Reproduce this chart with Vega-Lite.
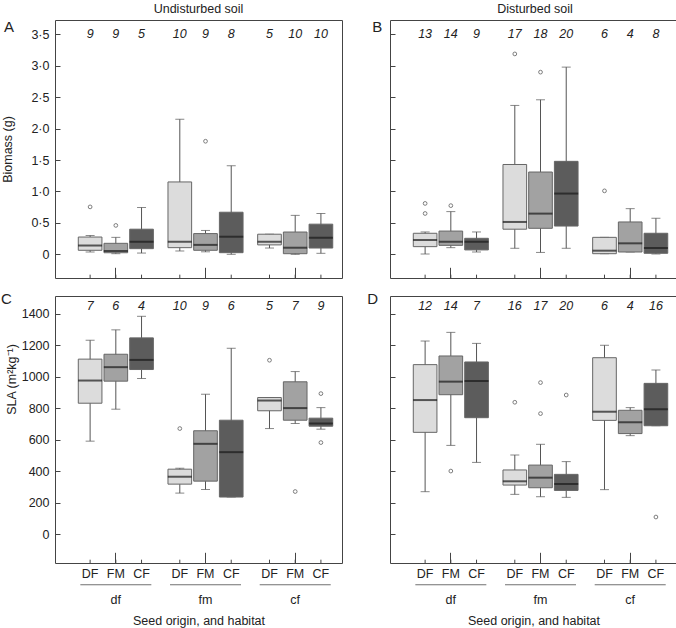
{
  "$schema": "https://vega.github.io/schema/vega-lite/v6.json",
  "padding": {"left": 0, "top": 2, "right": 0, "bottom": 0},
  "spacing": 23,
  "datasets": {
    "boxes": [
      {"panel": "A", "habitat": "df", "origin": "DF", "lower": 0.037, "q1": 0.064, "median": 0.14, "q3": 0.275, "upper": 0.30, "n": 9},
      {"panel": "A", "habitat": "df", "origin": "FM", "lower": 0.01, "q1": 0.025, "median": 0.053, "q3": 0.175, "upper": 0.27, "n": 9},
      {"panel": "A", "habitat": "df", "origin": "CF", "lower": 0.02, "q1": 0.09, "median": 0.20, "q3": 0.40, "upper": 0.745, "n": 5},
      {"panel": "A", "habitat": "fm", "origin": "DF", "lower": 0.053, "q1": 0.106, "median": 0.20, "q3": 1.152, "upper": 2.15, "n": 10},
      {"panel": "A", "habitat": "fm", "origin": "FM", "lower": 0.04, "q1": 0.064, "median": 0.15, "q3": 0.33, "upper": 0.38, "n": 9},
      {"panel": "A", "habitat": "fm", "origin": "CF", "lower": 0.0, "q1": 0.026, "median": 0.28, "q3": 0.67, "upper": 1.41, "n": 8},
      {"panel": "A", "habitat": "cf", "origin": "DF", "lower": 0.10, "q1": 0.15, "median": 0.20, "q3": 0.32, "upper": 0.32, "n": 5},
      {"panel": "A", "habitat": "cf", "origin": "FM", "lower": 0.0, "q1": 0.01, "median": 0.105, "q3": 0.355, "upper": 0.62, "n": 10},
      {"panel": "A", "habitat": "cf", "origin": "CF", "lower": 0.016, "q1": 0.10, "median": 0.265, "q3": 0.48, "upper": 0.65, "n": 10},
      {"panel": "B", "habitat": "df", "origin": "DF", "lower": 0.005, "q1": 0.122, "median": 0.228, "q3": 0.335, "upper": 0.356, "n": 13},
      {"panel": "B", "habitat": "df", "origin": "FM", "lower": 0.106, "q1": 0.143, "median": 0.20, "q3": 0.37, "upper": 0.68, "n": 14},
      {"panel": "B", "habitat": "df", "origin": "CF", "lower": 0.037, "q1": 0.07, "median": 0.20, "q3": 0.255, "upper": 0.356, "n": 9},
      {"panel": "B", "habitat": "fm", "origin": "DF", "lower": 0.096, "q1": 0.40, "median": 0.515, "q3": 1.43, "upper": 2.37, "n": 17},
      {"panel": "B", "habitat": "fm", "origin": "FM", "lower": 0.03, "q1": 0.414, "median": 0.648, "q3": 1.31, "upper": 2.46, "n": 18},
      {"panel": "B", "habitat": "fm", "origin": "CF", "lower": 0.096, "q1": 0.45, "median": 0.967, "q3": 1.48, "upper": 2.98, "n": 20},
      {"panel": "B", "habitat": "cf", "origin": "DF", "lower": 0.01, "q1": 0.01, "median": 0.058, "q3": 0.27, "upper": 0.27, "n": 6},
      {"panel": "B", "habitat": "cf", "origin": "FM", "lower": 0.037, "q1": 0.037, "median": 0.175, "q3": 0.515, "upper": 0.727, "n": 4},
      {"panel": "B", "habitat": "cf", "origin": "CF", "lower": 0.005, "q1": 0.016, "median": 0.10, "q3": 0.335, "upper": 0.574, "n": 8},
      {"panel": "C", "habitat": "df", "origin": "DF", "lower": 590, "q1": 831, "median": 975, "q3": 1111, "upper": 1231, "n": 7},
      {"panel": "C", "habitat": "df", "origin": "FM", "lower": 793, "q1": 971, "median": 1060, "q3": 1142, "upper": 1297, "n": 6},
      {"panel": "C", "habitat": "df", "origin": "CF", "lower": 988, "q1": 1045, "median": 1106, "q3": 1246, "upper": 1383, "n": 4},
      {"panel": "C", "habitat": "fm", "origin": "DF", "lower": 260, "q1": 317, "median": 364, "q3": 412, "upper": 418, "n": 10},
      {"panel": "C", "habitat": "fm", "origin": "FM", "lower": 283, "q1": 336, "median": 573, "q3": 656, "upper": 888, "n": 9},
      {"panel": "C", "habitat": "fm", "origin": "CF", "lower": 235, "q1": 235, "median": 520, "q3": 723, "upper": 1180, "n": 6},
      {"panel": "C", "habitat": "cf", "origin": "DF", "lower": 670, "q1": 783, "median": 848, "q3": 867, "upper": 867, "n": 5},
      {"panel": "C", "habitat": "cf", "origin": "FM", "lower": 702, "q1": 723, "median": 800, "q3": 967, "upper": 1032, "n": 7},
      {"panel": "C", "habitat": "cf", "origin": "CF", "lower": 666, "q1": 685, "median": 702, "q3": 736, "upper": 803, "n": 9},
      {"panel": "D", "habitat": "df", "origin": "DF", "lower": 269, "q1": 646, "median": 851, "q3": 1076, "upper": 1226, "n": 12},
      {"panel": "D", "habitat": "df", "origin": "FM", "lower": 563, "q1": 885, "median": 968, "q3": 1131, "upper": 1281, "n": 14},
      {"panel": "D", "habitat": "df", "origin": "CF", "lower": 455, "q1": 739, "median": 972, "q3": 1093, "upper": 1211, "n": 7},
      {"panel": "D", "habitat": "fm", "origin": "DF", "lower": 252, "q1": 311, "median": 335, "q3": 407, "upper": 502, "n": 16},
      {"panel": "D", "habitat": "fm", "origin": "FM", "lower": 237, "q1": 294, "median": 358, "q3": 438, "upper": 570, "n": 17},
      {"panel": "D", "habitat": "fm", "origin": "CF", "lower": 233, "q1": 277, "median": 318, "q3": 379, "upper": 460, "n": 20},
      {"panel": "D", "habitat": "cf", "origin": "DF", "lower": 282, "q1": 722, "median": 777, "q3": 1120, "upper": 1199, "n": 6},
      {"panel": "D", "habitat": "cf", "origin": "FM", "lower": 625, "q1": 638, "median": 710, "q3": 786, "upper": 803, "n": 4},
      {"panel": "D", "habitat": "cf", "origin": "CF", "lower": 688, "q1": 688, "median": 792, "q3": 957, "upper": 1042, "n": 16}
    ],
    "outliers": [
      {"panel": "A", "habitat": "df", "origin": "DF", "value": 0.755},
      {"panel": "A", "habitat": "df", "origin": "FM", "value": 0.46},
      {"panel": "A", "habitat": "fm", "origin": "FM", "value": 1.80},
      {"panel": "B", "habitat": "df", "origin": "DF", "value": 0.81},
      {"panel": "B", "habitat": "df", "origin": "DF", "value": 0.65},
      {"panel": "B", "habitat": "df", "origin": "FM", "value": 0.775},
      {"panel": "B", "habitat": "fm", "origin": "DF", "value": 3.19},
      {"panel": "B", "habitat": "fm", "origin": "FM", "value": 2.90},
      {"panel": "B", "habitat": "cf", "origin": "DF", "value": 1.01},
      {"panel": "C", "habitat": "fm", "origin": "DF", "value": 670},
      {"panel": "C", "habitat": "cf", "origin": "DF", "value": 1104},
      {"panel": "C", "habitat": "cf", "origin": "FM", "value": 270},
      {"panel": "C", "habitat": "cf", "origin": "CF", "value": 892},
      {"panel": "C", "habitat": "cf", "origin": "CF", "value": 581},
      {"panel": "D", "habitat": "df", "origin": "FM", "value": 400},
      {"panel": "D", "habitat": "fm", "origin": "DF", "value": 837},
      {"panel": "D", "habitat": "fm", "origin": "FM", "value": 962},
      {"panel": "D", "habitat": "fm", "origin": "FM", "value": 765},
      {"panel": "D", "habitat": "fm", "origin": "CF", "value": 883},
      {"panel": "D", "habitat": "cf", "origin": "CF", "value": 108}
    ]
  },
  "hconcat": [
    {
      "title": {"text": "Undisturbed soil", "fontSize": 12.5, "fontWeight": "normal", "offset": -5.7, "baseline": "alphabetic", "anchor": "middle", "frame": "group", "dx": 143.5},
      "bounds": "flush",
      "spacing": 18,
      "vconcat": [
        {
          "width": 287, "height": 258,
          "title": {"text": "A", "anchor": "start", "frame": "group", "dx": -51, "dy": 11.4, "offset": -15.4, "baseline": "alphabetic", "fontSize": 15, "fontWeight": "normal"},
          "data": {"name": "boxes"},
          "transform": [{"filter": "datum.panel === 'A'"}],
          "encoding": {
            "x": {"field": "habitat", "type": "nominal", "scale": {"domain": ["df", "fm", "cf"], "paddingInner": 0.14, "paddingOuter": 0.17, "align": 0.73}, "axis": {"tickSize": -10.7, "labels": false, "title": null}},
            "xOffset": {"field": "origin", "type": "nominal", "scale": {"domain": ["DF", "FM", "CF"], "paddingInner": 0.08, "paddingOuter": 0.04}}
          },
          "layer": [
            {"mark": {"type": "rule", "color": "#555"}, "encoding": {"y": {"field": "lower", "type": "quantitative", "scale": {"domain": [-0.377, 3.73], "nice": false, "zero": false}, "axis": {"values": [0, 0.5, 1, 1.5, 2, 2.5, 3, 3.5], "labelOverlap": false, "labelExpr": "datum.value === 0 ? '0' : replace(format(datum.value, '.1f'), '.', '·')", "tickSize": -5, "labelPadding": 11, "title": "Biomass (g)", "titlePadding": 16.5}}, "y2": {"field": "upper"}}},
            {"mark": {"type": "tick", "size": 9, "thickness": 1, "color": "#555"}, "encoding": {"y": {"field": "upper", "type": "quantitative", "axis": {"values": [0, 0.5, 1, 1.5, 2, 2.5, 3, 3.5], "labelOverlap": false, "labelExpr": "datum.value === 0 ? '0' : replace(format(datum.value, '.1f'), '.', '·')", "tickSize": -5, "labelPadding": 11, "title": "Biomass (g)", "titlePadding": 16.5}}}},
            {"mark": {"type": "tick", "size": 9, "thickness": 1, "color": "#555"}, "encoding": {"y": {"field": "lower", "type": "quantitative", "axis": {"values": [0, 0.5, 1, 1.5, 2, 2.5, 3, 3.5], "labelOverlap": false, "labelExpr": "datum.value === 0 ? '0' : replace(format(datum.value, '.1f'), '.', '·')", "tickSize": -5, "labelPadding": 11, "title": "Biomass (g)", "titlePadding": 16.5}}}},
            {"mark": {"type": "bar", "stroke": "#666", "strokeWidth": 1}, "encoding": {"y": {"field": "q1", "type": "quantitative", "axis": {"values": [0, 0.5, 1, 1.5, 2, 2.5, 3, 3.5], "labelOverlap": false, "labelExpr": "datum.value === 0 ? '0' : replace(format(datum.value, '.1f'), '.', '·')", "tickSize": -5, "labelPadding": 11, "title": "Biomass (g)", "titlePadding": 16.5}}, "y2": {"field": "q3"}, "color": {"field": "origin", "type": "nominal", "scale": {"domain": ["DF", "FM", "CF"], "range": ["#dcdcdc", "#a2a2a2", "#5c5c5c"]}, "legend": null}}},
            {"mark": {"type": "tick", "size": 24, "thickness": 2, "color": "#1a1a1a"}, "encoding": {"y": {"field": "median", "type": "quantitative", "axis": {"values": [0, 0.5, 1, 1.5, 2, 2.5, 3, 3.5], "labelOverlap": false, "labelExpr": "datum.value === 0 ? '0' : replace(format(datum.value, '.1f'), '.', '·')", "tickSize": -5, "labelPadding": 11, "title": "Biomass (g)", "titlePadding": 16.5}}}},
            {"data": {"name": "outliers"}, "transform": [{"filter": "datum.panel === 'A'"}], "mark": {"type": "point", "shape": "circle", "filled": false, "size": 14, "stroke": "#333", "strokeWidth": 0.9}, "encoding": {"y": {"field": "value", "type": "quantitative", "axis": {"values": [0, 0.5, 1, 1.5, 2, 2.5, 3, 3.5], "labelOverlap": false, "labelExpr": "datum.value === 0 ? '0' : replace(format(datum.value, '.1f'), '.', '·')", "tickSize": -5, "labelPadding": 11, "title": "Biomass (g)", "titlePadding": 16.5}}}},
            {"mark": {"type": "text", "fontStyle": "italic", "fontSize": 12.5, "color": "#222", "baseline": "middle"}, "encoding": {"y": {"datum": 3.5, "axis": {"values": [0, 0.5, 1, 1.5, 2, 2.5, 3, 3.5], "labelOverlap": false, "labelExpr": "datum.value === 0 ? '0' : replace(format(datum.value, '.1f'), '.', '·')", "tickSize": -5, "labelPadding": 11, "title": "Biomass (g)", "titlePadding": 16.5}}, "text": {"field": "n"}}},
            {"mark": {"type": "rule", "color": "#444"}, "encoding": {"y": {"datum": -0.377, "axis": {"values": [0, 0.5, 1, 1.5, 2, 2.5, 3, 3.5], "labelOverlap": false, "labelExpr": "datum.value === 0 ? '0' : replace(format(datum.value, '.1f'), '.', '·')", "tickSize": -5, "labelPadding": 11, "title": "Biomass (g)", "titlePadding": 16.5}}, "y2": {"datum": -0.324}}}
          ]
        },
        {
          "width": 287, "height": 267,
          "title": {"text": "C", "anchor": "start", "frame": "group", "dx": -54, "dy": 7.5, "offset": -15.4, "baseline": "alphabetic", "fontSize": 15, "fontWeight": "normal"},
          "data": {"name": "boxes"},
          "transform": [{"filter": "datum.panel === 'C'"}],
          "encoding": {
            "x": {"field": "habitat", "type": "nominal", "scale": {"domain": ["df", "fm", "cf"], "paddingInner": 0.14, "paddingOuter": 0.17, "align": 0.73}, "axis": {"tickSize": -10.7, "labelPadding": 41, "title": "Seed origin, and habitat", "titlePadding": 9}},
            "xOffset": {"field": "origin", "type": "nominal", "scale": {"domain": ["DF", "FM", "CF"], "paddingInner": 0.08, "paddingOuter": 0.04}}
          },
          "layer": [
            {"mark": {"type": "rule", "color": "#555"}, "encoding": {"y": {"field": "lower", "type": "quantitative", "scale": {"domain": [-184, 1512], "nice": false, "zero": false}, "axis": {"values": [0, 200, 400, 600, 800, 1000, 1200, 1400], "format": "d", "labelOverlap": false, "tickSize": -5, "labelPadding": 11, "title": "SLA (m²kg⁻¹)", "titlePadding": 3, "titleY": 83}}, "y2": {"field": "upper"}}},
            {"mark": {"type": "tick", "size": 9, "thickness": 1, "color": "#555"}, "encoding": {"y": {"field": "upper", "type": "quantitative", "axis": {"values": [0, 200, 400, 600, 800, 1000, 1200, 1400], "format": "d", "labelOverlap": false, "tickSize": -5, "labelPadding": 11, "title": "SLA (m²kg⁻¹)", "titlePadding": 3, "titleY": 83}}}},
            {"mark": {"type": "tick", "size": 9, "thickness": 1, "color": "#555"}, "encoding": {"y": {"field": "lower", "type": "quantitative", "axis": {"values": [0, 200, 400, 600, 800, 1000, 1200, 1400], "format": "d", "labelOverlap": false, "tickSize": -5, "labelPadding": 11, "title": "SLA (m²kg⁻¹)", "titlePadding": 3, "titleY": 83}}}},
            {"mark": {"type": "bar", "stroke": "#666", "strokeWidth": 1}, "encoding": {"y": {"field": "q1", "type": "quantitative", "axis": {"values": [0, 200, 400, 600, 800, 1000, 1200, 1400], "format": "d", "labelOverlap": false, "tickSize": -5, "labelPadding": 11, "title": "SLA (m²kg⁻¹)", "titlePadding": 3, "titleY": 83}}, "y2": {"field": "q3"}, "color": {"field": "origin", "type": "nominal", "scale": {"domain": ["DF", "FM", "CF"], "range": ["#dcdcdc", "#a2a2a2", "#5c5c5c"]}, "legend": null}}},
            {"mark": {"type": "tick", "size": 24, "thickness": 2, "color": "#1a1a1a"}, "encoding": {"y": {"field": "median", "type": "quantitative", "axis": {"values": [0, 200, 400, 600, 800, 1000, 1200, 1400], "format": "d", "labelOverlap": false, "tickSize": -5, "labelPadding": 11, "title": "SLA (m²kg⁻¹)", "titlePadding": 3, "titleY": 83}}}},
            {"data": {"name": "outliers"}, "transform": [{"filter": "datum.panel === 'C'"}], "mark": {"type": "point", "shape": "circle", "filled": false, "size": 14, "stroke": "#333", "strokeWidth": 0.9}, "encoding": {"y": {"field": "value", "type": "quantitative", "axis": {"values": [0, 200, 400, 600, 800, 1000, 1200, 1400], "format": "d", "labelOverlap": false, "tickSize": -5, "labelPadding": 11, "title": "SLA (m²kg⁻¹)", "titlePadding": 3, "titleY": 83}}}},
            {"mark": {"type": "text", "fontStyle": "italic", "fontSize": 12.5, "color": "#222", "baseline": "middle"}, "encoding": {"y": {"datum": 1450, "axis": {"values": [0, 200, 400, 600, 800, 1000, 1200, 1400], "format": "d", "labelOverlap": false, "tickSize": -5, "labelPadding": 11, "title": "SLA (m²kg⁻¹)", "titlePadding": 3, "titleY": 83}}, "text": {"field": "n"}}},
            {"mark": {"type": "rule", "color": "#444"}, "encoding": {"y": {"datum": -184, "axis": {"values": [0, 200, 400, 600, 800, 1000, 1200, 1400], "format": "d", "labelOverlap": false, "tickSize": -5, "labelPadding": 11, "title": "SLA (m²kg⁻¹)", "titlePadding": 3, "titleY": 83}}, "y2": {"datum": -163}}},
            {"mark": {"type": "text", "fontSize": 12.5, "color": "#222", "baseline": "middle", "dy": 11}, "encoding": {"y": {"datum": -184, "axis": {"values": [0, 200, 400, 600, 800, 1000, 1200, 1400], "format": "d", "labelOverlap": false, "tickSize": -5, "labelPadding": 11, "title": "SLA (m²kg⁻¹)", "titlePadding": 3, "titleY": 83}}, "text": {"field": "origin"}}},
            {"transform": [{"filter": "datum.origin === 'FM'"}], "mark": {"type": "tick", "size": 71, "thickness": 1, "color": "#333"}, "encoding": {"y": {"datum": -322, "axis": {"values": [0, 200, 400, 600, 800, 1000, 1200, 1400], "format": "d", "labelOverlap": false, "tickSize": -5, "labelPadding": 11, "title": "SLA (m²kg⁻¹)", "titlePadding": 3, "titleY": 83}}}}
          ]
        }
      ]
    },
    {
      "title": {"text": "Disturbed soil", "fontSize": 12.5, "fontWeight": "normal", "offset": -5.7, "baseline": "alphabetic", "anchor": "middle", "frame": "group", "dx": 145},
      "bounds": "flush",
      "spacing": 18,
      "vconcat": [
        {
          "width": 287, "height": 258,
          "title": {"text": "B", "anchor": "start", "frame": "group", "dx": -17.7, "dy": 11.8, "offset": -15.4, "baseline": "alphabetic", "fontSize": 15, "fontWeight": "normal"},
          "data": {"name": "boxes"},
          "transform": [{"filter": "datum.panel === 'B'"}],
          "encoding": {
            "x": {"field": "habitat", "type": "nominal", "scale": {"domain": ["df", "fm", "cf"], "paddingInner": 0.14, "paddingOuter": 0.17, "align": 0.73}, "axis": {"tickSize": -10.7, "labels": false, "title": null}},
            "xOffset": {"field": "origin", "type": "nominal", "scale": {"domain": ["DF", "FM", "CF"], "paddingInner": 0.08, "paddingOuter": 0.04}}
          },
          "layer": [
            {"mark": {"type": "rule", "color": "#555"}, "encoding": {"y": {"field": "lower", "type": "quantitative", "scale": {"domain": [-0.377, 3.73], "nice": false, "zero": false}, "axis": {"values": [0, 0.5, 1, 1.5, 2, 2.5, 3, 3.5], "labels": false, "tickSize": -5, "title": null}}, "y2": {"field": "upper"}}},
            {"mark": {"type": "tick", "size": 9, "thickness": 1, "color": "#555"}, "encoding": {"y": {"field": "upper", "type": "quantitative", "axis": {"values": [0, 0.5, 1, 1.5, 2, 2.5, 3, 3.5], "labels": false, "tickSize": -5, "title": null}}}},
            {"mark": {"type": "tick", "size": 9, "thickness": 1, "color": "#555"}, "encoding": {"y": {"field": "lower", "type": "quantitative", "axis": {"values": [0, 0.5, 1, 1.5, 2, 2.5, 3, 3.5], "labels": false, "tickSize": -5, "title": null}}}},
            {"mark": {"type": "bar", "stroke": "#666", "strokeWidth": 1}, "encoding": {"y": {"field": "q1", "type": "quantitative", "axis": {"values": [0, 0.5, 1, 1.5, 2, 2.5, 3, 3.5], "labels": false, "tickSize": -5, "title": null}}, "y2": {"field": "q3"}, "color": {"field": "origin", "type": "nominal", "scale": {"domain": ["DF", "FM", "CF"], "range": ["#dcdcdc", "#a2a2a2", "#5c5c5c"]}, "legend": null}}},
            {"mark": {"type": "tick", "size": 24, "thickness": 2, "color": "#1a1a1a"}, "encoding": {"y": {"field": "median", "type": "quantitative", "axis": {"values": [0, 0.5, 1, 1.5, 2, 2.5, 3, 3.5], "labels": false, "tickSize": -5, "title": null}}}},
            {"data": {"name": "outliers"}, "transform": [{"filter": "datum.panel === 'B'"}], "mark": {"type": "point", "shape": "circle", "filled": false, "size": 14, "stroke": "#333", "strokeWidth": 0.9}, "encoding": {"y": {"field": "value", "type": "quantitative", "axis": {"values": [0, 0.5, 1, 1.5, 2, 2.5, 3, 3.5], "labels": false, "tickSize": -5, "title": null}}}},
            {"mark": {"type": "text", "fontStyle": "italic", "fontSize": 12.5, "color": "#222", "baseline": "middle"}, "encoding": {"y": {"datum": 3.5, "axis": {"values": [0, 0.5, 1, 1.5, 2, 2.5, 3, 3.5], "labels": false, "tickSize": -5, "title": null}}, "text": {"field": "n"}}},
            {"mark": {"type": "rule", "color": "#444"}, "encoding": {"y": {"datum": -0.377, "axis": {"values": [0, 0.5, 1, 1.5, 2, 2.5, 3, 3.5], "labels": false, "tickSize": -5, "title": null}}, "y2": {"datum": -0.324}}}
          ]
        },
        {
          "width": 287, "height": 267,
          "title": {"text": "D", "anchor": "start", "frame": "group", "dx": -22.7, "dy": 7.4, "offset": -15.4, "baseline": "alphabetic", "fontSize": 15, "fontWeight": "normal"},
          "data": {"name": "boxes"},
          "transform": [{"filter": "datum.panel === 'D'"}],
          "encoding": {
            "x": {"field": "habitat", "type": "nominal", "scale": {"domain": ["df", "fm", "cf"], "paddingInner": 0.14, "paddingOuter": 0.17, "align": 0.73}, "axis": {"tickSize": -10.7, "labelPadding": 41, "title": "Seed origin, and habitat", "titlePadding": 9}},
            "xOffset": {"field": "origin", "type": "nominal", "scale": {"domain": ["DF", "FM", "CF"], "paddingInner": 0.08, "paddingOuter": 0.04}}
          },
          "layer": [
            {"mark": {"type": "rule", "color": "#555"}, "encoding": {"y": {"field": "lower", "type": "quantitative", "scale": {"domain": [-184, 1512], "nice": false, "zero": false}, "axis": {"values": [0, 200, 400, 600, 800, 1000, 1200, 1400], "labels": false, "tickSize": -5, "title": null}}, "y2": {"field": "upper"}}},
            {"mark": {"type": "tick", "size": 9, "thickness": 1, "color": "#555"}, "encoding": {"y": {"field": "upper", "type": "quantitative", "axis": {"values": [0, 200, 400, 600, 800, 1000, 1200, 1400], "labels": false, "tickSize": -5, "title": null}}}},
            {"mark": {"type": "tick", "size": 9, "thickness": 1, "color": "#555"}, "encoding": {"y": {"field": "lower", "type": "quantitative", "axis": {"values": [0, 200, 400, 600, 800, 1000, 1200, 1400], "labels": false, "tickSize": -5, "title": null}}}},
            {"mark": {"type": "bar", "stroke": "#666", "strokeWidth": 1}, "encoding": {"y": {"field": "q1", "type": "quantitative", "axis": {"values": [0, 200, 400, 600, 800, 1000, 1200, 1400], "labels": false, "tickSize": -5, "title": null}}, "y2": {"field": "q3"}, "color": {"field": "origin", "type": "nominal", "scale": {"domain": ["DF", "FM", "CF"], "range": ["#dcdcdc", "#a2a2a2", "#5c5c5c"]}, "legend": null}}},
            {"mark": {"type": "tick", "size": 24, "thickness": 2, "color": "#1a1a1a"}, "encoding": {"y": {"field": "median", "type": "quantitative", "axis": {"values": [0, 200, 400, 600, 800, 1000, 1200, 1400], "labels": false, "tickSize": -5, "title": null}}}},
            {"data": {"name": "outliers"}, "transform": [{"filter": "datum.panel === 'D'"}], "mark": {"type": "point", "shape": "circle", "filled": false, "size": 14, "stroke": "#333", "strokeWidth": 0.9}, "encoding": {"y": {"field": "value", "type": "quantitative", "axis": {"values": [0, 200, 400, 600, 800, 1000, 1200, 1400], "labels": false, "tickSize": -5, "title": null}}}},
            {"mark": {"type": "text", "fontStyle": "italic", "fontSize": 12.5, "color": "#222", "baseline": "middle"}, "encoding": {"y": {"datum": 1450, "axis": {"values": [0, 200, 400, 600, 800, 1000, 1200, 1400], "labels": false, "tickSize": -5, "title": null}}, "text": {"field": "n"}}},
            {"mark": {"type": "rule", "color": "#444"}, "encoding": {"y": {"datum": -184, "axis": {"values": [0, 200, 400, 600, 800, 1000, 1200, 1400], "labels": false, "tickSize": -5, "title": null}}, "y2": {"datum": -163}}},
            {"mark": {"type": "text", "fontSize": 12.5, "color": "#222", "baseline": "middle", "dy": 11}, "encoding": {"y": {"datum": -184, "axis": {"values": [0, 200, 400, 600, 800, 1000, 1200, 1400], "labels": false, "tickSize": -5, "title": null}}, "text": {"field": "origin"}}},
            {"transform": [{"filter": "datum.origin === 'FM'"}], "mark": {"type": "tick", "size": 71, "thickness": 1, "color": "#333"}, "encoding": {"y": {"datum": -322, "axis": {"values": [0, 200, 400, 600, 800, 1000, 1200, 1400], "labels": false, "tickSize": -5, "title": null}}}}
          ]
        }
      ]
    }
  ],
  "config": {
    "font": "Liberation Sans",
    "view": {"stroke": "#444", "strokeWidth": 1},
    "axis": {"labelFontSize": 12.5, "titleFontSize": 12.5, "titleFontWeight": "normal", "labelColor": "#222", "titleColor": "#222", "tickColor": "#444", "grid": false, "domain": false, "labelAngle": 0, "labelFont": "Liberation Sans", "titleFont": "Liberation Sans"},
    "title": {"color": "#222", "font": "Liberation Sans"}
  }
}
